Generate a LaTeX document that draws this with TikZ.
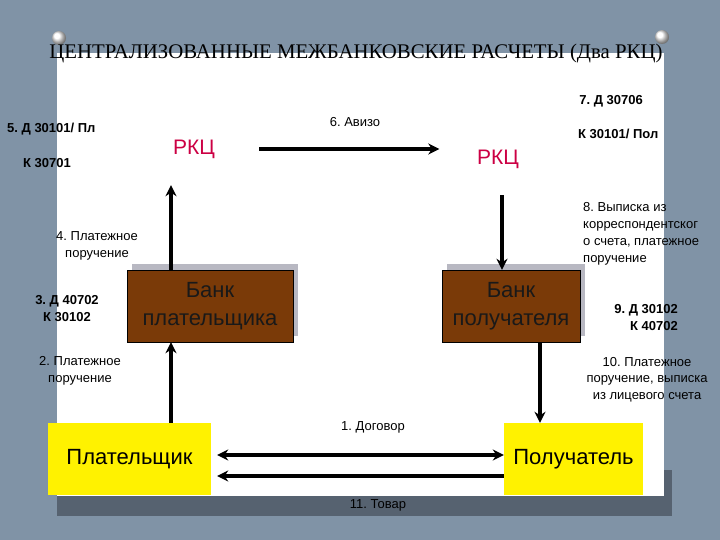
\documentclass[tikz,border=0pt]{standalone}
\usepackage{fontspec}
\setmainfont{Liberation Sans}
\newfontfamily\titlefont{Liberation Serif}
\usetikzlibrary{arrows.meta,shadows}
\definecolor{wallgray}{RGB}{128,147,166}
\definecolor{wallshade}{RGB}{86,98,112}
\definecolor{bankbrown}{RGB}{122,58,8}
\definecolor{rkcred}{RGB}{204,0,68}
\definecolor{backgray}{RGB}{184,184,194}
\begin{document}
\frenchspacing
\begin{tikzpicture}[x=1pt, y=-1pt,
    >={Stealth[length=11pt,width=11pt,inset=3.5pt]},
    flow/.style={->, line width=3.5pt},
    rkc/.style={fill=white, text=rkcred, font=\fontsize{21}{25}\selectfont, minimum height=72pt},
    bank/.style={draw=black, fill=bankbrown, text=black!90, align=center,
        font=\fontsize{22}{28}\selectfont, minimum height=72pt,
        drop shadow={shadow xshift=5pt, shadow yshift=6pt, fill=backgray, opacity=1}},
    client/.style={fill=yellow, font=\fontsize{22}{26}\selectfont, minimum height=72pt},
    note/.style={font=\fontsize{13}{16.5}\selectfont, align=center, inner sep=0pt},
    acct/.style={note, font=\fontsize{13}{17}\selectfont\bfseries}]
    % wall and sheet
    \fill[wallgray] (0,0) rectangle (720,540);
    \fill[wallshade] (57,470) rectangle (672,516);
    \fill[white] (57,53) rectangle (664,496);
    \shade[ball color=white] (59,38) circle (7pt);
    \shade[ball color=white] (662,37) circle (7pt);
    \node (title) at (356,54) {\titlefont\fontsize{20.8}{25}\selectfont ЦЕНТРАЛИЗОВАННЫЕ МЕЖБАНКОВСКИЕ РАСЧЕТЫ (Два РКЦ)};

    \node[rkc, minimum width=122pt] (rkcL) at (194,149) {РКЦ};
    \node[rkc, minimum width=117pt] (rkcR) at (498,159) {РКЦ};
    \node[bank, minimum width=166pt] (bankP) at (210,306) {Банк\\плательщика};
    \node[bank, minimum width=138pt] (bankR) at (511,306) {Банк\\получателя};
    \node[client, minimum width=163pt] (payer) at (129.5,459) {Плательщик};
    \node[client, minimum width=139pt] (payee) at (573.5,459) {Получатель};

    \draw[flow] ([xshift=4pt]rkcL.east) -- (rkcR.west |- rkcL.east);
    \draw[flow] ([xshift=-39pt]bankP.north) -- ([xshift=-23pt]rkcL.south);
    \draw[flow] ([xshift=4pt]rkcR.south) -- ([xshift=-9pt]bankR.north);
    \draw[flow] ([xshift=41.5pt]payer.north) -- ([xshift=-39pt]bankP.south);
    \draw[flow] ([xshift=29pt]bankR.south) -- ([xshift=-33.5pt]payee.north);
    \draw[flow, <->, shorten <=6pt] ([yshift=4pt]payer.east) -- ([yshift=4pt]payee.west);
    \draw[flow, <-, shorten <=6pt] ([yshift=-17pt]payer.east) -- ([yshift=-17pt]payee.west);

    % labels
    \node[note] (avizo) at (355,122) {6. Авизо};
    \node[note] (dogovor) at (373,427) {1. Договор};
    \node[note] (tovar) at (378,505) {11. Товар};
    \node[note] (order4) at (97,246) {4. Платежное\\поручение};
    \node[note] (order2) at (80,371) {2. Платежное\\поручение};
    \node[note] (order10) at (647,379.5) {10. Платежное\\поручение, выписка\\из лицевого счета};
    \node[note, font=\fontsize{13}{17}\selectfont, align=left, anchor=west] (extract8) at (583,233.5)
        {8. Выписка из\\корреспондентског\\о счета, платежное\\поручение};
    \node[acct, anchor=west] (acct5d) at (7,129) {5. Д 30101/ Пл};
    \node[acct, anchor=west] (acct5k) at (23,163) {К 30701};
    \node[acct] (acct3) at (67,308.5) {3. Д 40702\\К 30102};
    \node[acct, anchor=east] (acct7d) at (643,101) {7. Д 30706};
    \node[acct, anchor=west] (acct7k) at (578,134) {К 30101/ Пол};
    \node[acct, align=right, anchor=east] (acct9) at (678,318) {9. Д 30102\\К 40702};
\end{tikzpicture}
\end{document}
